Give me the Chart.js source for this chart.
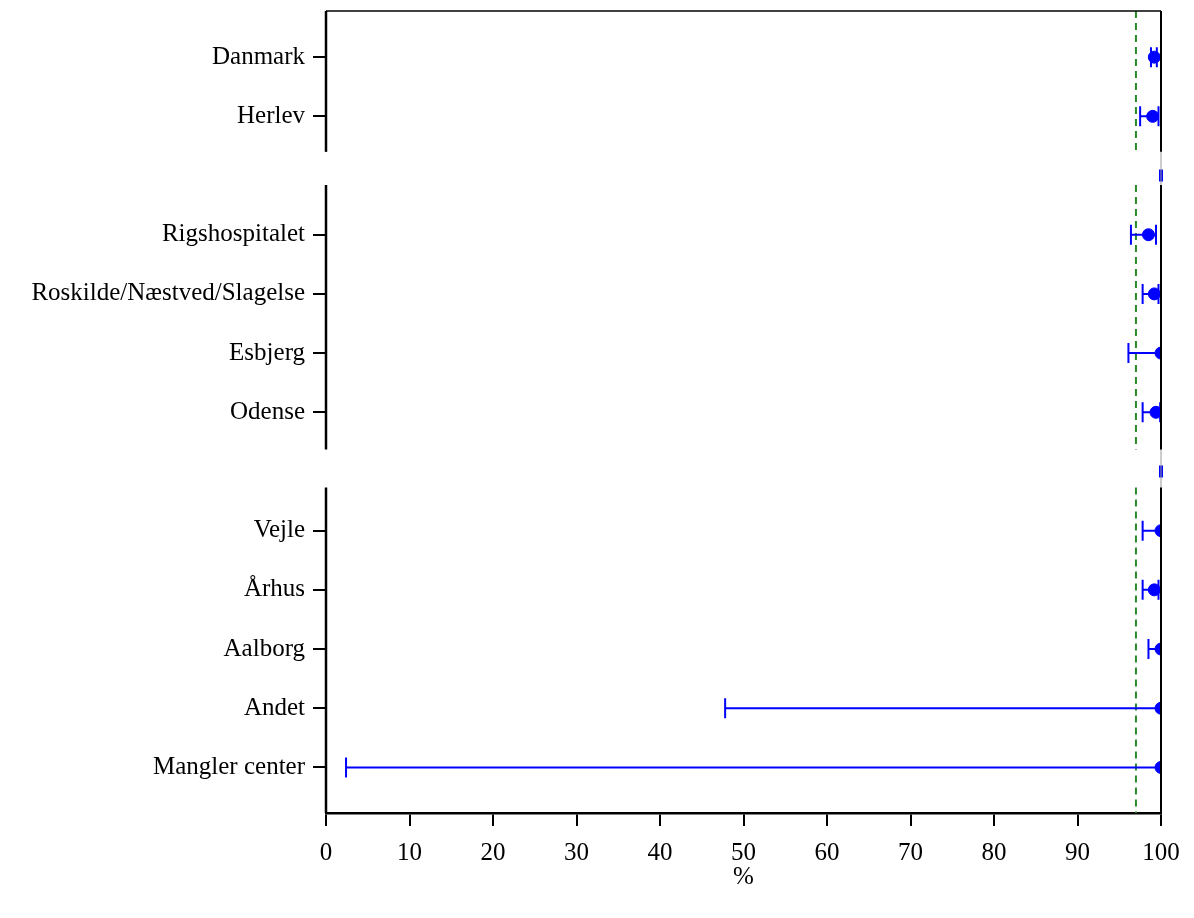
<!DOCTYPE html>
<html>
<head>
<meta charset="utf-8">
<script src="https://cdn.jsdelivr.net/npm/chart.js@4/dist/chart.umd.min.js"></script>
<style>
  html, body { margin: 0; padding: 0; background: #fff; }
  #wrap { width: 1194px; height: 918px; }
</style>
</head>
<body>
<div id="wrap"><canvas id="myChart" width="1194" height="918"></canvas></div>
<script>
// rows from top to bottom, empty strings are the blank rows between groups
var categories = ['Danmark', 'Herlev', '', 'Rigshospitalet', 'Roskilde/Næstved/Slagelse', 'Esbjerg', 'Odense', '', 'Vejle', 'Århus', 'Aalborg', 'Andet', 'Mangler center'];
var values = [99.2, 99.0, null, 98.5, 99.2, 100, 99.4, null, 100, 99.2, 100, 100, 100];
var lower  = [98.8, 97.5, null, 96.4, 97.8, 96.1, 97.8, null, 97.8, 97.8, 98.5, 47.8, 2.4];
var upper  = [99.5, 99.7, null, 99.4, 99.7, 100, 99.9, null, 100, 99.7, 100, 100, 100];
var blankMarks = [null, null, 100, null, null, null, null, 100, null, null, null, null, null];
var xTicks = [0, 10, 20, 30, 40, 50, 60, 70, 80, 90, 100];
var reference = 97;

// pieces of the broken y axis, in row units
var axisPieces = [[-0.78, 1.6], [2.16, 6.63], [7.27, 12.77]];

var fontFamily = '"Liberation Serif", "Times New Roman", serif';
var blue = '#0000ff';

document.addEventListener("DOMContentLoaded", function() {
  var ctx = document.getElementById('myChart').getContext('2d');

  var points = [];
  var marks = [];
  for (var i = 0; i < categories.length; i++) {
    if (values[i] !== null) points.push({x: values[i], y: i});
    if (blankMarks[i] !== null) marks.push({x: blankMarks[i], y: i});
  }

  var brokenAxis = {
    id: 'brokenAxis',
    beforeDatasetsDraw: function(chart) {
      var c = chart.ctx, xs = chart.scales.x, ys = chart.scales.y;
      c.save();
      // green reference line, broken like the axis
      c.strokeStyle = '#2a8a2a';
      c.lineWidth = 2;
      c.setLineDash([7, 5]);
      axisPieces.forEach(function(p) {
        c.beginPath();
        c.moveTo(xs.getPixelForValue(reference), ys.getPixelForValue(p[0]));
        c.lineTo(xs.getPixelForValue(reference), ys.getPixelForValue(p[1]));
        c.stroke();
      });
      c.setLineDash([]);
      // error bars
      c.strokeStyle = blue;
      c.lineWidth = 2;
      for (var i = 0; i < categories.length; i++) {
        if (lower[i] === null) continue;
        var y = ys.getPixelForValue(i);
        var x1 = xs.getPixelForValue(lower[i]);
        var x2 = xs.getPixelForValue(upper[i]);
        c.beginPath();
        c.moveTo(x1, y); c.lineTo(x2, y);
        c.moveTo(x1, y - 10); c.lineTo(x1, y + 10);
        c.moveTo(x2, y - 10); c.lineTo(x2, y + 10);
        c.stroke();
      }
      c.restore();
    },
    afterDatasetsDraw: function(chart) {
      var c = chart.ctx, xs = chart.scales.x, ys = chart.scales.y;
      var a = chart.chartArea;
      c.save();
      c.strokeStyle = '#000';
      // top border
      c.lineWidth = 1.5;
      c.beginPath();
      c.moveTo(a.left, a.top); c.lineTo(a.right, a.top);
      c.stroke();
      // faint line through the gaps on the right
      c.strokeStyle = '#999';
      c.lineWidth = 1;
      c.beginPath();
      c.moveTo(a.right, a.top); c.lineTo(a.right, a.bottom);
      c.stroke();
      c.strokeStyle = '#000';
      axisPieces.forEach(function(p) {
        var yA = ys.getPixelForValue(p[0]);
        var yB = ys.getPixelForValue(p[1]);
        c.lineWidth = 2.5;
        c.beginPath();
        c.moveTo(a.left, yA); c.lineTo(a.left, yB);
        c.stroke();
        c.lineWidth = 2;
        c.beginPath();
        c.moveTo(a.right, yA); c.lineTo(a.right, yB);
        c.stroke();
      });
      c.restore();
    }
  };

  var config = {
    type: 'scatter',
    data: {
      datasets: [{
        label: 'Andel',
        data: points,
        backgroundColor: blue,
        borderColor: blue,
        pointRadius: 6,
        pointHoverRadius: 6
      }, {
        label: 'tom',
        data: marks,
        pointStyle: 'line',
        rotation: 90,
        borderColor: blue,
        borderWidth: 4,
        pointRadius: 6,
        clip: false
      }]
    },
    plugins: [brokenAxis],
    options: {
      responsive: false,
      animation: false,
      events: [],
      layout: { padding: { top: 11, right: 33, left: 0, bottom: 0 } },
      plugins: {
        legend: { display: false },
        tooltip: { enabled: false }
      },
      scales: {
        x: {
          type: 'linear',
          min: 0,
          max: 100,
          afterBuildTicks: function(scale) {
            scale.ticks = xTicks.map(function(v) { return {value: v}; });
          },
          afterFit: function(scale) { scale.height = 105; },
          ticks: {
            color: '#000',
            font: { family: fontFamily, size: 25 },
            padding: 12,
            maxRotation: 0
          },
          grid: {
            drawOnChartArea: false,
            drawTicks: true,
            tickLength: 13,
            color: '#000',
            lineWidth: 2
          },
          border: { display: true, color: '#000', width: 2.5 },
          title: {
            display: true,
            text: '%',
            color: '#000',
            font: { family: fontFamily, size: 25 },
            padding: { top: 0, bottom: 26 }
          }
        },
        y: {
          type: 'linear',
          reverse: true,
          min: -0.78,
          max: 12.77,
          afterBuildTicks: function(scale) {
            var t = [];
            categories.forEach(function(name, i) {
              if (name !== '') t.push({value: i});
            });
            scale.ticks = t;
          },
          afterFit: function(scale) {
            scale.width = 326;
            scale.paddingTop = 0;
            scale.paddingBottom = 0;
          },
          ticks: {
            color: '#000',
            font: { family: fontFamily, size: 25 },
            padding: 8,
            callback: function(v) { return categories[v]; }
          },
          grid: {
            drawOnChartArea: false,
            drawTicks: true,
            tickLength: 13,
            color: '#000',
            lineWidth: 2
          },
          border: { display: false }
        }
      }
    }
  };
  var myChart = new Chart(ctx, config);
});
</script>
</body>
</html>
